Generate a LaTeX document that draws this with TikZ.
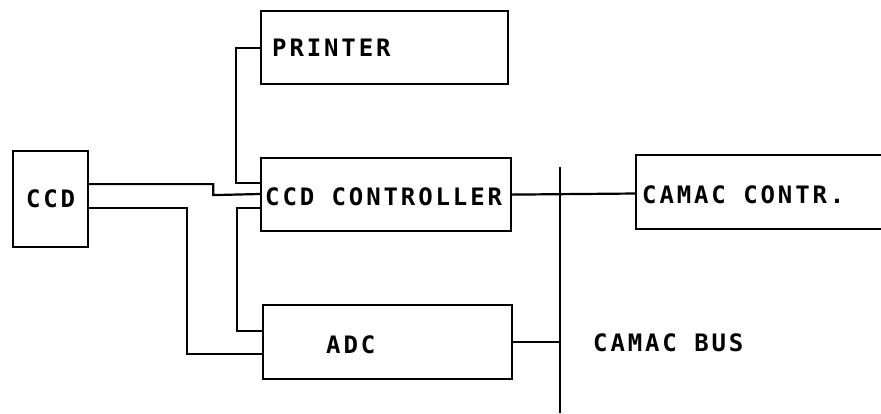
\documentclass[tikz,border=0pt]{standalone}
\usepackage{fontspec}
\newfontfamily\dotfont[LetterSpace=12]{DejaVu Sans Mono}
\begin{document}
\begin{tikzpicture}[x=1pt,y=-1pt,
  box/.style={draw, line width=2.2pt, inner sep=0pt, anchor=north west},
  lbl/.style={inner sep=0pt, font=\dotfont\bfseries\fontsize{24}{24}\selectfont},
  wire/.style={line width=2.2pt}]
\useasboundingbox (0,0) rectangle (881,413);
% boxes
\node[box, minimum width=75pt, minimum height=96pt] (ccd) at (12,150) {};
\node[box, minimum width=247pt, minimum height=73pt] (printer) at (260,10) {};
\node[box, minimum width=250pt, minimum height=73pt] (ctrl) at (260,157) {};
\node[box, minimum width=249pt, minimum height=74pt] (adc) at (262,304) {};
% labels
\node[lbl] (tccd) at (ccd.center) {CCD};
\node[lbl, anchor=west] (tprinter) at (272,48) {PRINTER};
\node[lbl, anchor=west] (tctrl) at (265,197) {CCD CONTROLLER};
\node[lbl, anchor=west] (tadc) at (326,345) {ADC};
\node[lbl, anchor=west] (tcamac) at (642,195) {CAMAC CONTR.};
\node[lbl, anchor=west] (tbus) at (593,343) {CAMAC BUS};
% open CAMAC controller box
\coordinate (camac) at (636,193.5);
\draw[wire] (881,155) -- (636,155) -- (636,229) -- (881,229);
% bus
\coordinate (bustop) at (560,167);
\coordinate (busbot) at (560,413);
\draw[wire] (bustop) -- (busbot);
% connectors
\draw[wire] ([yshift=15pt]ccd.east) -- ++(124,0) -- ++(0,11) -- (ctrl.west |- 0,194);
\draw[wire] ([yshift=-9pt]ccd.east) -| ([xshift=-75pt,yshift=-12pt]adc.west) -- ([yshift=-12pt]adc.west);
\draw[wire] (printer.west) -- ++(-24,0) |- ([yshift=12pt]ctrl.west);
\draw[wire] ([yshift=-13pt]ctrl.west) -- ++(-23,0) |- ([yshift=11pt]adc.west);
\draw[wire] (ctrl.east) -- (camac);
\draw[wire] (adc.east) -- (adc.east -| bustop);
\end{tikzpicture}
\end{document}
